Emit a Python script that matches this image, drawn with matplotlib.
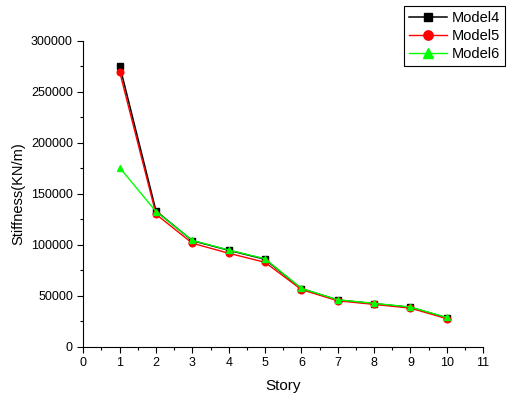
import numpy as np
import matplotlib.pyplot as plt
from matplotlib.ticker import MultipleLocator

plt.rcParams['font.family'] = ['Liberation Sans', 'DejaVu Sans']

story = [1, 2, 3, 4, 5, 6, 7, 8, 9, 10]
model4 = [275500, 133000, 103900, 94500, 85700, 56900, 45800, 42200, 38600, 28400]
model5 = [269300, 129800, 101400, 91600, 82700, 56000, 45000, 41500, 37800, 27500]
model6 = [175500, 132500, 104200, 94800, 86200, 57200, 46000, 42500, 38900, 28700]

fig = plt.figure(figsize=(5.08, 3.94), dpi=100)
ax = fig.add_axes([0.164, 0.120, 0.787, 0.777])

ax.plot(story, model4, color='black', marker='s', markersize=4.5, linewidth=1.1, label='Model4')
ax.plot(story, model5, color='red', marker='o', markersize=4.8, linewidth=1, label='Model5')
ax.plot(story, model6, color='#00ff00', marker='^', markersize=5, linewidth=1, label='Model6')

ax.set_xlim(0, 11)
ax.set_ylim(0, 300000)
ax.xaxis.set_major_locator(MultipleLocator(1))
ax.xaxis.set_minor_locator(MultipleLocator(0.5))
ax.yaxis.set_major_locator(MultipleLocator(50000))
ax.yaxis.set_minor_locator(MultipleLocator(25000))
ax.tick_params(which='major', length=4, width=0.8, labelsize=9, direction='out')
ax.tick_params(which='minor', length=2.5, width=0.8, direction='out')
ax.spines['top'].set_visible(False)
ax.spines['right'].set_visible(False)

ax.set_xlabel('Story', fontsize=11, labelpad=7)
ax.set_ylabel('Stiffness(KN/m)', fontsize=10.5, labelpad=4)

leg = fig.legend(loc='upper left', bbox_to_anchor=(0.795, 0.986), fontsize=10.5,
                 frameon=True, fancybox=False, edgecolor='black', framealpha=1,
                 handlelength=2.6, borderpad=0.35, labelspacing=0.3, handletextpad=0.3,
                 borderaxespad=0, markerscale=1.4)
leg.get_frame().set_linewidth(0.8)

fig.savefig('out.png', dpi=100)
